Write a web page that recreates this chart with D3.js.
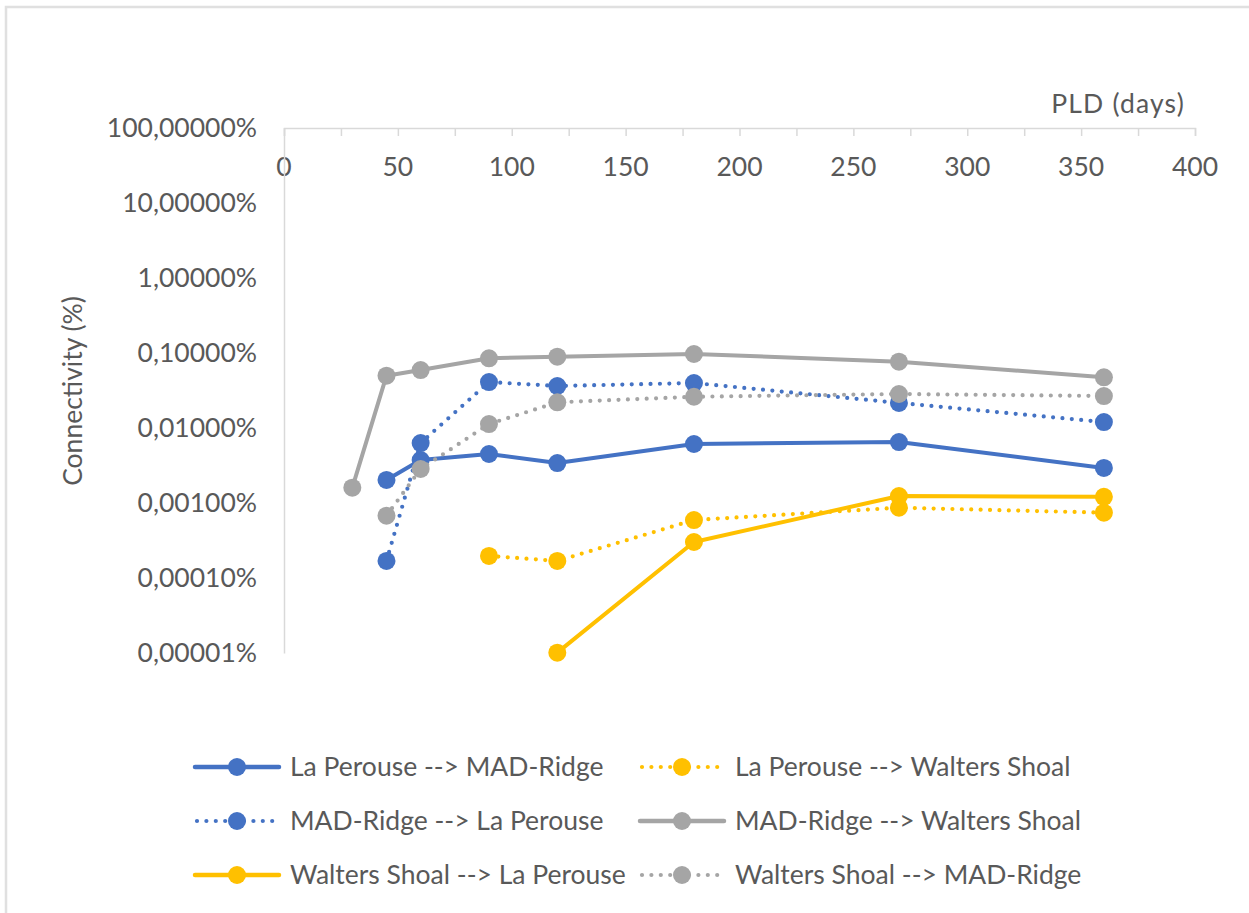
<!DOCTYPE html>
<html>
<head>
<meta charset="utf-8">
<script src="https://cdn.jsdelivr.net/npm/d3@7"></script>
<style>
  html, body { margin: 0; padding: 0; background: #ffffff; }
  svg { display: block; font-family: Lato, "Open Sans", sans-serif; }
</style>
</head>
<body>
<svg id="chart" width="1249" height="913"></svg>
<script>
// Pelagic larval duration (days) sampled for each connection
const pldDays = [30, 45, 60, 90, 120, 180, 270, 360];

// Connectivity values in percent, aligned with pldDays (null = not reached)
const laPerouseToMadRidge      = [null, 0.00203, 0.00374, 0.0045, 0.00341, 0.00612, 0.0065, 0.00293];
const laPerouseToWaltersShoal  = [null, null, null, 0.000197, 0.000169, 0.000593, 0.000865, 0.000743];
const madRidgeToLaPerouse      = [null, 0.000169, 0.0063, 0.041, 0.0363, 0.0398, 0.0216, 0.012];
const madRidgeToWaltersShoal   = [0.0016, 0.0498, 0.0593, 0.0849, 0.0893, 0.097, 0.0766, 0.0474];
const waltersShoalToLaPerouse  = [null, null, null, null, 0.0000101, 0.000302, 0.00124, 0.00121];
const waltersShoalToMadRidge   = [null, 0.000677, 0.00284, 0.0113, 0.022, 0.0261, 0.0284, 0.0267];

const seriesNames = [
  "La Perouse --> MAD-Ridge",
  "La Perouse --> Walters Shoal",
  "MAD-Ridge --> La Perouse",
  "MAD-Ridge --> Walters Shoal",
  "Walters Shoal --> La Perouse",
  "Walters Shoal --> MAD-Ridge"
];
const seriesValues = [
  laPerouseToMadRidge, laPerouseToWaltersShoal, madRidgeToLaPerouse,
  madRidgeToWaltersShoal, waltersShoalToLaPerouse, waltersShoalToMadRidge
];

const xTickLabels = [0, 50, 100, 150, 200, 250, 300, 350, 400];
const yTickValues = [100, 10, 1, 0.1, 0.01, 0.001, 0.0001, 0.00001];

// Styling per series
const blue = "#4472C4", gold = "#FFC000", grey = "#A5A5A5";
const seriesStyle = [
  { color: blue, dotted: false },
  { color: gold, dotted: true },
  { color: blue, dotted: true },
  { color: grey, dotted: false },
  { color: gold, dotted: false },
  { color: grey, dotted: true }
];

const textColor = "#595959";
const axisColor = "#D9D9D9";
const fontSize = 26.5;

const svg = d3.select("#chart");

// Chart area frame
svg.append("path")
  .attr("d", "M6,913 L6,7 L1249,7")
  .attr("fill", "none")
  .attr("stroke", "#E0E0E0")
  .attr("stroke-width", 2.5);

const x = d3.scaleLinear().domain([0, 400]).range([284, 1195]);
const y = d3.scaleLog().domain([0.00001, 100]).range([653, 128]);

// X axis across the top of the plot, ticks pointing down into it
const xAxis = d3.axisBottom(x)
  .tickValues(d3.range(0, 401, 25))
  .tickSize(8)
  .tickFormat("");
const gx = svg.append("g").attr("transform", `translate(0,${y(100)})`).call(xAxis);
gx.select(".domain").attr("stroke", axisColor).attr("stroke-width", 1.5);
gx.selectAll(".tick line").attr("stroke", axisColor).attr("stroke-width", 1.5);

svg.append("g").selectAll("text")
  .data(xTickLabels)
  .join("text")
  .attr("x", d => x(d))
  .attr("y", 167)
  .attr("dy", "0.35em")
  .attr("text-anchor", "middle")
  .attr("fill", textColor)
  .attr("font-size", fontSize)
  .text(d => d);

// Y axis (log scale), labels with a decimal comma
const fmt = v => d3.format(".5f")(v).replace(".", ",") + "%";
const yAxis = d3.axisLeft(y).tickValues(yTickValues).tickSize(0).tickPadding(27).tickFormat(fmt);
const gy = svg.append("g").attr("transform", `translate(${x(0)},0)`).call(yAxis);
gy.select(".domain").attr("stroke", axisColor).attr("stroke-width", 1.5);
gy.selectAll(".tick text")
  .attr("fill", textColor)
  .attr("font-size", fontSize)
  .attr("font-family", "Lato, 'Open Sans', sans-serif");

// Axis titles
svg.append("text")
  .attr("x", 1185).attr("y", 113)
  .attr("text-anchor", "end")
  .attr("fill", textColor)
  .attr("font-size", fontSize)
  .attr("letter-spacing", 1.2)
  .text("PLD (days)");

svg.append("text")
  .attr("transform", `translate(82,391) rotate(-90)`)
  .attr("text-anchor", "middle")
  .attr("fill", textColor)
  .attr("font-size", fontSize)
  .text("Connectivity (%)");

// Series lines and markers
const line = d3.line()
  .defined(d => d.v != null)
  .x(d => x(d.day))
  .y(d => y(d.v));

const plot = svg.append("g");
seriesValues.forEach((vals, i) => {
  const st = seriesStyle[i];
  const pts = pldDays.map((day, j) => ({ day, v: vals[j] }));
  const g = plot.append("g");
  g.append("path")
    .datum(pts)
    .attr("d", line)
    .attr("fill", "none")
    .attr("stroke", st.color)
    .attr("stroke-width", st.dotted ? 4.2 : 4)
    .attr("stroke-linecap", "round")
    .attr("stroke-linejoin", "round")
    .attr("stroke-dasharray", st.dotted ? "0 9.4" : null);
  g.selectAll("circle")
    .data(pts.filter(d => d.v != null))
    .join("circle")
    .attr("cx", d => x(d.day))
    .attr("cy", d => y(d.v))
    .attr("r", 9)
    .attr("fill", st.color);
});

// Legend: two columns, three rows
const legendCols = [195, 640];
const legendRows = [767, 821, 875];
const legend = svg.append("g");
seriesNames.forEach((name, i) => {
  const st = seriesStyle[i];
  const lx = legendCols[i % 2];
  const ly = legendRows[Math.floor(i / 2)];
  const g = legend.append("g").attr("transform", `translate(${lx},${ly})`);
  if (st.dotted) {
    g.append("line")
      .attr("x1", 2).attr("x2", 82).attr("y1", 0).attr("y2", 0)
      .attr("stroke", st.color).attr("stroke-width", 4.2)
      .attr("stroke-linecap", "round")
      .attr("stroke-dasharray", "0 9.4");
  } else {
    g.append("line")
      .attr("x1", 0).attr("x2", 84).attr("y1", 0).attr("y2", 0)
      .attr("stroke", st.color).attr("stroke-width", 4.5)
      .attr("stroke-linecap", "round");
  }
  g.append("circle").attr("cx", 42).attr("cy", 0).attr("r", 9).attr("fill", st.color);
  g.append("text")
    .attr("x", 95).attr("y", 0).attr("dy", "0.35em")
    .attr("fill", textColor)
    .attr("font-size", fontSize)
    .text(name);
});
</script>
</body>
</html>
